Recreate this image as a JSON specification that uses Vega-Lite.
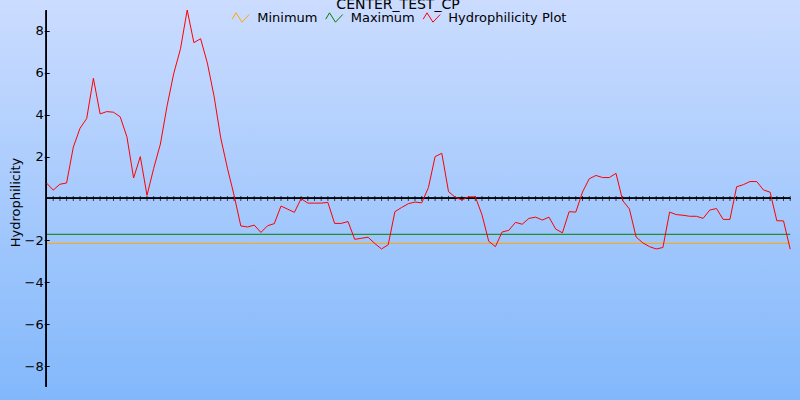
{
  "$schema": "https://vega.github.io/schema/vega-lite/v6.json",
  "width": 800,
  "height": 400,
  "autosize": {"type": "none"},
  "padding": 0,
  "background": "#a8c8ff",
  "title": {"text": "CENTER_TEST_CP", "fontSize": 14, "font": "DejaVu Sans", "fontWeight": "normal", "color": "black", "anchor": "middle", "offset": -12, "dx": -2},
  "config": {
    "font": "DejaVu Sans",
    "view": {"stroke": null, "fill": {"gradient": "linear", "x1": 0, "y1": 0, "x2": 0, "y2": 1, "stops": [{"offset": 0, "color": "#cbdcff"}, {"offset": 1, "color": "#82b8fb"}]}}
  },
  "datasets": {
    "hydro": [
      {"i":0,"v":0.74,"s":"Hydrophilicity Plot"},{"i":1,"v":0.4,"s":"Hydrophilicity Plot"},{"i":2,"v":0.68,"s":"Hydrophilicity Plot"},{"i":3,"v":0.74,"s":"Hydrophilicity Plot"},
      {"i":4,"v":2.45,"s":"Hydrophilicity Plot"},{"i":5,"v":3.35,"s":"Hydrophilicity Plot"},{"i":6,"v":3.82,"s":"Hydrophilicity Plot"},{"i":7,"v":5.74,"s":"Hydrophilicity Plot"},
      {"i":8,"v":4.04,"s":"Hydrophilicity Plot"},{"i":9,"v":4.15,"s":"Hydrophilicity Plot"},{"i":10,"v":4.12,"s":"Hydrophilicity Plot"},{"i":11,"v":3.9,"s":"Hydrophilicity Plot"},
      {"i":12,"v":2.95,"s":"Hydrophilicity Plot"},{"i":13,"v":0.98,"s":"Hydrophilicity Plot"},{"i":14,"v":2.0,"s":"Hydrophilicity Plot"},{"i":15,"v":0.15,"s":"Hydrophilicity Plot"},
      {"i":16,"v":1.44,"s":"Hydrophilicity Plot"},{"i":17,"v":2.6,"s":"Hydrophilicity Plot"},{"i":18,"v":4.43,"s":"Hydrophilicity Plot"},{"i":19,"v":5.98,"s":"Hydrophilicity Plot"},
      {"i":20,"v":7.15,"s":"Hydrophilicity Plot"},{"i":21,"v":9.0,"s":"Hydrophilicity Plot"},{"i":22,"v":7.44,"s":"Hydrophilicity Plot"},{"i":23,"v":7.63,"s":"Hydrophilicity Plot"},
      {"i":24,"v":6.48,"s":"Hydrophilicity Plot"},{"i":25,"v":4.9,"s":"Hydrophilicity Plot"},{"i":26,"v":2.9,"s":"Hydrophilicity Plot"},{"i":27,"v":1.45,"s":"Hydrophilicity Plot"},
      {"i":28,"v":0.15,"s":"Hydrophilicity Plot"},{"i":29,"v":-1.31,"s":"Hydrophilicity Plot"},{"i":30,"v":-1.36,"s":"Hydrophilicity Plot"},{"i":31,"v":-1.27,"s":"Hydrophilicity Plot"},
      {"i":32,"v":-1.62,"s":"Hydrophilicity Plot"},{"i":33,"v":-1.3,"s":"Hydrophilicity Plot"},{"i":34,"v":-1.2,"s":"Hydrophilicity Plot"},{"i":35,"v":-0.36,"s":"Hydrophilicity Plot"},
      {"i":36,"v":-0.51,"s":"Hydrophilicity Plot"},{"i":37,"v":-0.66,"s":"Hydrophilicity Plot"},{"i":38,"v":-0.01,"s":"Hydrophilicity Plot"},{"i":39,"v":-0.22,"s":"Hydrophilicity Plot"},
      {"i":40,"v":-0.22,"s":"Hydrophilicity Plot"},{"i":41,"v":-0.22,"s":"Hydrophilicity Plot"},{"i":42,"v":-0.19,"s":"Hydrophilicity Plot"},{"i":43,"v":-1.19,"s":"Hydrophilicity Plot"},
      {"i":44,"v":-1.19,"s":"Hydrophilicity Plot"},{"i":45,"v":-1.1,"s":"Hydrophilicity Plot"},{"i":46,"v":-1.95,"s":"Hydrophilicity Plot"},{"i":47,"v":-1.9,"s":"Hydrophilicity Plot"},
      {"i":48,"v":-1.85,"s":"Hydrophilicity Plot"},{"i":49,"v":-2.15,"s":"Hydrophilicity Plot"},{"i":50,"v":-2.41,"s":"Hydrophilicity Plot"},{"i":51,"v":-2.21,"s":"Hydrophilicity Plot"},
      {"i":52,"v":-0.63,"s":"Hydrophilicity Plot"},{"i":53,"v":-0.43,"s":"Hydrophilicity Plot"},{"i":54,"v":-0.25,"s":"Hydrophilicity Plot"},{"i":55,"v":-0.17,"s":"Hydrophilicity Plot"},
      {"i":56,"v":-0.21,"s":"Hydrophilicity Plot"},{"i":57,"v":0.52,"s":"Hydrophilicity Plot"},{"i":58,"v":2.0,"s":"Hydrophilicity Plot"},{"i":59,"v":2.16,"s":"Hydrophilicity Plot"},
      {"i":60,"v":0.33,"s":"Hydrophilicity Plot"},{"i":61,"v":0.06,"s":"Hydrophilicity Plot"},{"i":62,"v":-0.07,"s":"Hydrophilicity Plot"},{"i":63,"v":0.08,"s":"Hydrophilicity Plot"},
      {"i":64,"v":0.08,"s":"Hydrophilicity Plot"},{"i":65,"v":-0.78,"s":"Hydrophilicity Plot"},{"i":66,"v":-2.04,"s":"Hydrophilicity Plot"},{"i":67,"v":-2.3,"s":"Hydrophilicity Plot"},
      {"i":68,"v":-1.6,"s":"Hydrophilicity Plot"},{"i":69,"v":-1.52,"s":"Hydrophilicity Plot"},{"i":70,"v":-1.14,"s":"Hydrophilicity Plot"},{"i":71,"v":-1.23,"s":"Hydrophilicity Plot"},
      {"i":72,"v":-0.95,"s":"Hydrophilicity Plot"},{"i":73,"v":-0.89,"s":"Hydrophilicity Plot"},{"i":74,"v":-1.03,"s":"Hydrophilicity Plot"},{"i":75,"v":-0.89,"s":"Hydrophilicity Plot"},
      {"i":76,"v":-1.46,"s":"Hydrophilicity Plot"},{"i":77,"v":-1.64,"s":"Hydrophilicity Plot"},{"i":78,"v":-0.63,"s":"Hydrophilicity Plot"},{"i":79,"v":-0.65,"s":"Hydrophilicity Plot"},
      {"i":80,"v":0.31,"s":"Hydrophilicity Plot"},{"i":81,"v":0.94,"s":"Hydrophilicity Plot"},{"i":82,"v":1.1,"s":"Hydrophilicity Plot"},{"i":83,"v":1.0,"s":"Hydrophilicity Plot"},
      {"i":84,"v":1.0,"s":"Hydrophilicity Plot"},{"i":85,"v":1.2,"s":"Hydrophilicity Plot"},{"i":86,"v":-0.1,"s":"Hydrophilicity Plot"},{"i":87,"v":-0.5,"s":"Hydrophilicity Plot"},
      {"i":88,"v":-1.84,"s":"Hydrophilicity Plot"},{"i":89,"v":-2.12,"s":"Hydrophilicity Plot"},{"i":90,"v":-2.3,"s":"Hydrophilicity Plot"},{"i":91,"v":-2.41,"s":"Hydrophilicity Plot"},
      {"i":92,"v":-2.34,"s":"Hydrophilicity Plot"},{"i":93,"v":-0.65,"s":"Hydrophilicity Plot"},{"i":94,"v":-0.77,"s":"Hydrophilicity Plot"},{"i":95,"v":-0.8,"s":"Hydrophilicity Plot"},
      {"i":96,"v":-0.85,"s":"Hydrophilicity Plot"},{"i":97,"v":-0.85,"s":"Hydrophilicity Plot"},{"i":98,"v":-0.95,"s":"Hydrophilicity Plot"},{"i":99,"v":-0.55,"s":"Hydrophilicity Plot"},
      {"i":100,"v":-0.48,"s":"Hydrophilicity Plot"},{"i":101,"v":-1.0,"s":"Hydrophilicity Plot"},{"i":102,"v":-1.0,"s":"Hydrophilicity Plot"},{"i":103,"v":0.56,"s":"Hydrophilicity Plot"},
      {"i":104,"v":0.66,"s":"Hydrophilicity Plot"},{"i":105,"v":0.81,"s":"Hydrophilicity Plot"},{"i":106,"v":0.81,"s":"Hydrophilicity Plot"},{"i":107,"v":0.41,"s":"Hydrophilicity Plot"},
      {"i":108,"v":0.3,"s":"Hydrophilicity Plot"},{"i":109,"v":-1.06,"s":"Hydrophilicity Plot"},{"i":110,"v":-1.07,"s":"Hydrophilicity Plot"},{"i":111,"v":-2.42,"s":"Hydrophilicity Plot"}
    ],
    "limits": [
      {"i":0,"v":-2.14,"s":"Minimum"},{"i":111,"v":-2.14,"s":"Minimum"},
      {"i":0,"v":-1.71,"s":"Maximum"},{"i":111,"v":-1.71,"s":"Maximum"}
    ]
  },
  "encoding": {
    "x": {"field": "i", "type": "quantitative", "scale": {"domain": [-6.94, 112.46], "nice": false, "zero": false}, "axis": null},
    "y": {"field": "v", "type": "quantitative", "scale": {"domain": [-9.623, 9.479], "nice": false, "zero": false}}
  },
  "layer": [
    {
      "data": {"name": "limits"},
      "mark": {"type": "line", "strokeWidth": 1},
      "encoding": {
        "y": {"field": "v", "type": "quantitative", "axis": {"values": [-8, -6, -4, -2, 2, 4, 6, 8], "domain": false, "grid": false, "tickSize": 5, "tickColor": "black", "labelColor": "black", "labelFontSize": 13, "labelFont": "DejaVu Sans", "labelPadding": 1, "offset": -49.2, "title": "Hydrophilicity", "titleFontSize": 13, "titleFont": "DejaVu Sans", "titleFontWeight": "normal", "titleColor": "black", "titleX": -29.7, "titleY": 202, "titleAngle": -90, "titleBaseline": "alphabetic", "titleAlign": "center"}},
        "color": {"field": "s", "type": "nominal", "scale": {"domain": ["Minimum", "Maximum", "Hydrophilicity Plot"], "range": ["#ffa500", "#008000", "#ff0000"]},
          "legend": {"orient": "none", "legendX": 231.7, "legendY": 8.5, "direction": "horizontal", "title": null, "symbolType": "M-1,0.2L-0.55,-0.55L0.15,0.55L1,-0.35", "symbolSize": 289, "symbolStrokeWidth": 1, "symbolFillColor": "transparent", "labelFontSize": 13, "labelFont": "DejaVu Sans", "labelColor": "black", "labelOffset": 7.5, "columnPadding": 5.5, "padding": 0, "rowPadding": 0}}
      }
    },
    {
      "data": {"name": "hydro"},
      "mark": {"type": "rule", "color": "black", "strokeWidth": 1},
      "encoding": {"x": {"datum": 0}, "x2": {"datum": 111}, "y": {"datum": 0}}
    },
    {
      "data": {"name": "hydro"},
      "mark": {"type": "rule", "color": "black", "strokeWidth": 1},
      "encoding": {"x": {"datum": 0}, "y": {"datum": -9}, "y2": {"datum": 9}}
    },
    {
      "data": {"name": "hydro"},
      "mark": {"type": "tick", "orient": "vertical", "color": "black", "size": 5, "thickness": 1},
      "encoding": {"y": {"datum": 0}}
    },
    {
      "data": {"name": "hydro"},
      "mark": {"type": "line", "strokeWidth": 1},
      "encoding": {"color": {"field": "s", "type": "nominal"}}
    }
  ]
}
